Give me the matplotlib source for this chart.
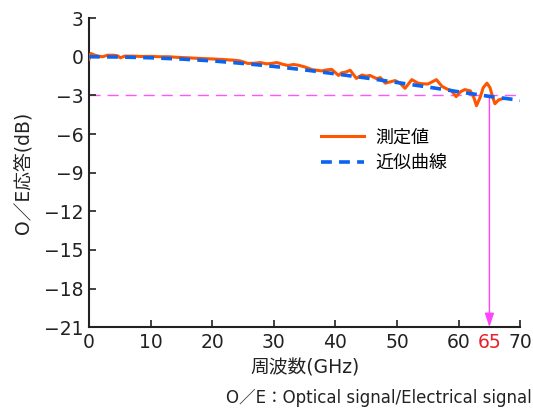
import numpy as np
import matplotlib
matplotlib.use("Agg")
import matplotlib.pyplot as plt

plt.rcParams['font.family'] = ['DejaVu Sans', 'Noto Sans CJK JP']
plt.rcParams['font.size'] = 12

#%% data

# measured O/E response (GHz, dB)
freq_meas = [0.0, 0.3, 0.8, 1.5, 2.2, 3.0, 4.0, 4.6, 5.1, 5.8, 7.0, 8.5, 10.0,
             11.5, 13.0, 14.5, 16.0, 17.5, 19.0, 20.5, 22.0, 23.5, 24.5, 25.8,
             27.0, 27.8, 28.8, 29.6, 30.5, 31.4, 32.3, 33.2, 34.0, 35.1, 36.2,
             37.0, 37.8, 38.6, 39.4, 40.5, 41.0, 41.6, 42.4, 43.4, 44.3, 45.0,
             45.6, 46.7, 47.3, 48.1, 48.9, 49.7, 50.5, 51.3, 52.4, 53.4, 54.2,
             55.0, 55.7, 56.4, 57.3, 58.1, 58.8, 59.6, 60.3, 61.0, 61.9, 62.5,
             62.9, 63.5, 64.0, 64.6, 65.1, 65.5, 65.9, 66.5, 67.2]
resp_meas = [-0.2, 0.25, 0.15, 0.05, 0.0, 0.12, 0.12, 0.08, -0.08, 0.05, 0.05,
             0.02, 0.03, 0.0, 0.0, -0.05, -0.08, -0.12, -0.15, -0.18, -0.22,
             -0.27, -0.32, -0.52, -0.5, -0.45, -0.55, -0.52, -0.45, -0.58,
             -0.68, -0.6, -0.66, -0.8, -1.0, -1.05, -1.1, -1.02, -0.98, -1.45,
             -1.25, -1.2, -1.05, -1.68, -1.42, -1.5, -1.45, -1.7, -1.62, -2.05,
             -1.95, -1.85, -2.05, -2.45, -1.78, -2.05, -2.1, -2.12, -1.95,
             -1.78, -2.3, -2.5, -2.62, -3.1, -2.72, -2.55, -2.65, -3.2, -3.8,
             -3.15, -2.4, -2.05, -2.4, -3.1, -3.65, -3.35, -3.25]

# approximate curve
freq_fit = [0, 5, 10, 15, 20, 25, 30, 35, 40, 45, 50, 55, 60, 65, 70]
resp_fit = [0.0, -0.02, -0.08, -0.18, -0.32, -0.52, -0.75, -1.02, -1.33,
            -1.65, -2.0, -2.35, -2.72, -3.08, -3.38]

cutoff_db = -3
cutoff_freq = 65

xticks = [0, 10, 20, 30, 40, 50, 60, 70]
yticks = [3, 0, -3, -6, -9, -12, -15, -18, -21]

#%% plot

fig = plt.figure(figsize=(5.33, 4.12), dpi=100)
ax = fig.add_axes([0.167, 0.206, 0.809, 0.75])

ax.plot([0, 70], [cutoff_db, cutoff_db], color='#ff55ff', lw=1,
        dashes=(8, 5), zorder=1)
ax.plot(freq_meas, resp_meas, color='#ff5500', lw=2.2, label='測定値', zorder=3)
ax.plot(freq_fit, resp_fit, color='#0a64f0', lw=2.6, dashes=(3, 2),
        label='近似曲線', zorder=4)

ax.annotate('', xy=(cutoff_freq, -21), xytext=(cutoff_freq, cutoff_db),
            arrowprops=dict(arrowstyle='-|>,head_length=0.6,head_width=0.2',
                            color='#ff44ff', lw=1,
                            mutation_scale=14, shrinkA=0, shrinkB=0))
ax.annotate('65', xy=(cutoff_freq, -21), xytext=(0, -4),
            textcoords='offset points', ha='center', va='top',
            color='#e8202a', fontsize=13.5, annotation_clip=False)

ax.set_xlim(0, 70)
ax.set_ylim(-21, 3)
ax.set_xticks(xticks)
ax.set_yticks(yticks)
ax.tick_params(direction='in', length=5, width=1.2, colors='#222222',
               labelsize=13.5, labelcolor='#222222', pad=4)
for s in ['top', 'right']:
    ax.spines[s].set_visible(False)
for s in ['left', 'bottom']:
    ax.spines[s].set_linewidth(1.5)
    ax.spines[s].set_color('#222222')

ax.set_xlabel('周波数(GHz)', fontsize=13.5, color='#222222', labelpad=5)
ax.set_ylabel('O／E応答(dB)', fontsize=13.5, color='#222222', labelpad=8)

ax.legend(loc='upper left', bbox_to_anchor=(0.5, 0.695), frameon=False,
          fontsize=13, handlelength=2.4, handletextpad=0.6, labelspacing=0.4)

fig.text(0.998, 0.012, 'O／E：Optical signal/Electrical signal',
         ha='right', va='bottom', fontsize=12, color='#222222')

plt.savefig('out.png', dpi=100)
